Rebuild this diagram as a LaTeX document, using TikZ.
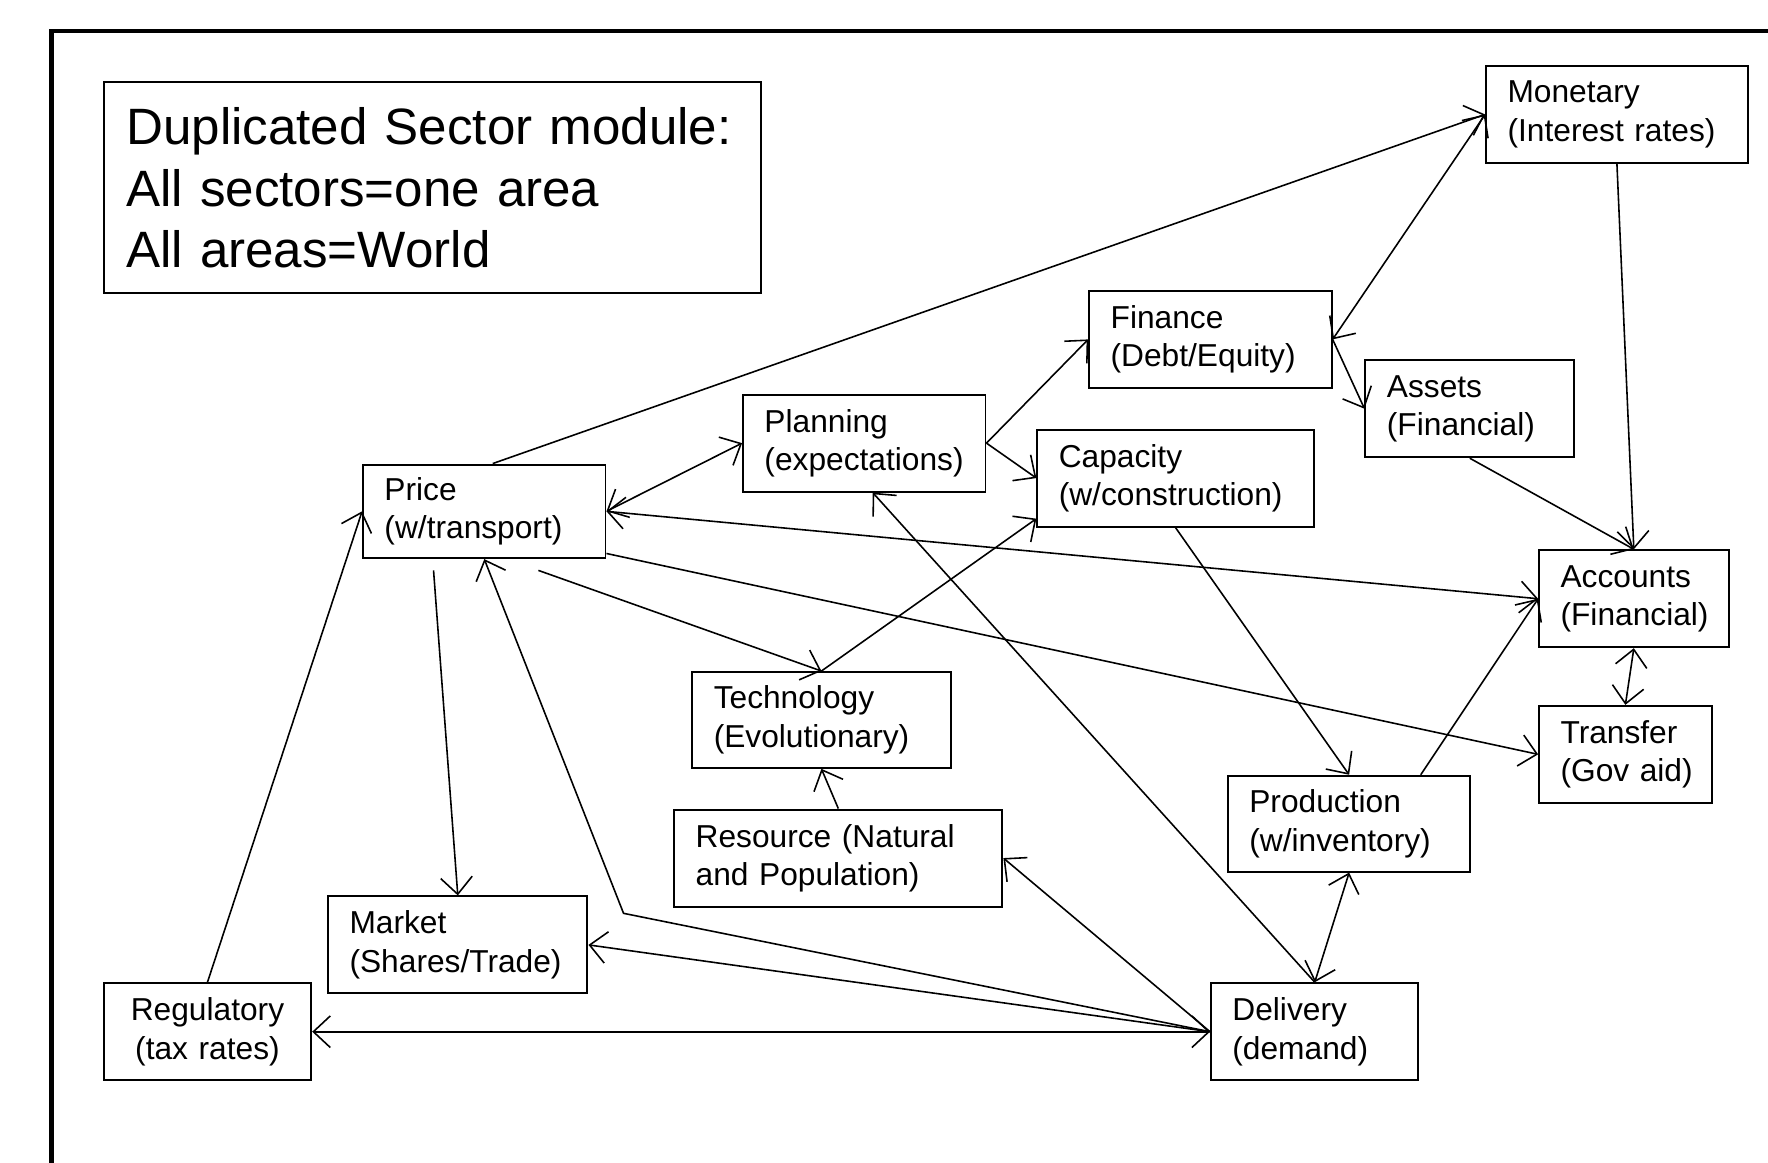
\documentclass[tikz,border=0pt]{standalone}
\usepackage{fontspec}
\setmainfont{Liberation Sans}
\usetikzlibrary{arrows.meta}
\hyphenpenalty=10000
\exhyphenpenalty=10000

\begin{document}
\begin{tikzpicture}[>={Straight Barb[length=1.5mm,width=2.8mm]},
  sector/.style={draw,line width=0.5pt,align=left,inner xsep=1.9mm,inner ysep=0pt,minimum height=8.6mm,text width=#1,font=\fontsize{8}{9.7}\selectfont},
  link/.style={line width=0.4pt}]
\useasboundingbox (0,0) rectangle (15.68,-10.31);
\clip (0,0) rectangle (15.68,-10.31);
% outer frame, runs off at right and bottom
\draw[line width=1.2pt] (0.46,-0.275) rectangle (16.2,-10.8);
% title box
\node[draw,line width=0.5pt,align=left,inner xsep=2mm,text width=5.43cm,minimum height=1.87cm,font=\fontsize{12.9}{15.4}\selectfont] (title) at (3.835,-1.665) {Duplicated Sector module:\\All sectors=one area\\All areas=World};
% sector modules
\node[sector=1.94cm] (monetary) at (14.34,-1.015) {Monetary\\(Interest~rates)};
\node[sector=1.77cm] (finance) at (10.735,-3.01) {Finance\\(Debt/Equity)};
\node[sector=1.47cm] (assets) at (13.035,-3.625) {Assets\\(Financial)};
\node[sector=1.77cm] (planning) at (7.665,-3.93) {Planning\\(expectations)};
\node[sector=2.07cm] (capacity) at (10.425,-4.24) {Capacity\\(w/construction)};
\node[sector=1.77cm,minimum height=8.3mm] (price) at (4.295,-4.535) {Price\\(w/transport)};
\node[sector=1.30cm] (accounts) at (14.49,-5.31) {Accounts\\(Financial)};
\node[sector=1.91cm,minimum height=8.5mm] (technology) at (7.285,-6.385) {Technology\\(Evolutionary)};
\node[sector=1.15cm] (transfer) at (14.415,-6.69) {Transfer\\(Gov~aid)};
\node[sector=1.77cm,minimum height=8.5mm] (production) at (11.965,-7.305) {Production\\(w/inventory)};
\node[sector=2.53cm] (resource) at (7.435,-7.61) {Resource (Natural\\and Population)};
\node[sector=1.92cm] (market) at (4.06,-8.38) {Market\\(Shares/Trade)};
\node[sector=1.46cm,align=center] (regulatory) at (1.84,-9.15) {Regulatory\\(tax rates)};
\node[sector=1.46cm] (delivery) at (11.66,-9.15) {Delivery\\(demand)};
% links
\draw[link,->] ([xshift=0.075cm]price.north) -- (monetary.west);
\draw[link,<->] (finance.east) -- (monetary.west);
\draw[link,->] (monetary.south) -- (accounts.north);
\draw[link,->] (finance.east) -- (assets.west);
\draw[link,->] (assets.south) -- (accounts.north);
\draw[link,->] (planning.east) -- (finance.west);
\draw[link,->] (planning.east) -- (capacity.west);
\draw[link,<->] (price.east) -- (planning.west);
\draw[link,<->] (price.east) -- (accounts.west);
\draw[link,->] ([yshift=0.05cm]price.south east) -- (transfer.west);
\draw[link,->] ([xshift=0.48cm,yshift=-0.1cm]price.south) -- (technology.north);
\draw[link,->] ([xshift=-0.45cm,yshift=-0.1cm]price.south) -- (market.north);
\draw[link,->] (regulatory.north) -- (price.west);
\coordinate (kink) at (5.53,-8.10);
\draw[link,->] (delivery.west) -- (kink) -- (price.south);
\draw[link,->] (delivery.west) -- (market.east);
\draw[link,<->] (delivery.west) -- (regulatory.east);
\draw[link,->] (delivery.west) -- (resource.east);
\draw[link,->] (delivery.north) -- ([xshift=0.075cm]planning.south);
\draw[link,<->] (production.south) -- (delivery.north);
\draw[link,->] (capacity.south) -- (production.north);
\draw[link,->] ([xshift=0.635cm]production.north) -- (accounts.west);
\draw[link,<->] (accounts.south) -- (transfer.north);
\draw[link,->] (technology.north) -- ([yshift=-0.36cm]capacity.west);
\draw[link,->] (resource.north) -- (technology.south);
\end{tikzpicture}
\end{document}
